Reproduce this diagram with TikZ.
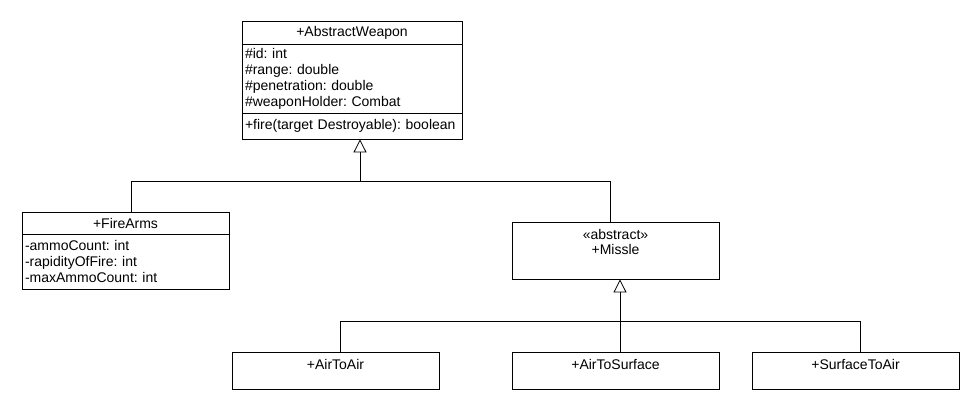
\documentclass[tikz,border=0pt]{standalone}
\usepackage{fontspec}
\setmainfont{Liberation Sans}
\usetikzlibrary{positioning,arrows.meta}
\frenchspacing

\tikzset{
	box/.style={draw=black,line width=0.8pt,inner sep=0pt},
	title/.style={box,font=\fontsize{14}{16}\selectfont},
	attrs/.style={box,align=left,inner xsep=3pt,font=\fontsize{14}{16}\selectfont},
	clsname/.style={inner sep=0pt,align=center,font=\fontsize{14}{15}\selectfont},
	edge/.style={draw=black,line width=0.8pt},
	gen/.style={-{Triangle[open,length=13pt,width=13pt]}}
}

\begin{document}
\begin{tikzpicture}[x=1pt,y=-1pt]
	\useasboundingbox (0,0) rectangle (980,410);
	
	% AbstractWeapon
	\node[title,minimum width=220pt,minimum height=23pt] (awname) at (352,32.5) {+AbstractWeapon};
	\node[attrs,text width=214pt,minimum height=69pt] (awattr) at (352,78.5) {\#id: int\\\#range: double\\\#penetration: double\\\#weaponHolder: Combat};
	\node[attrs,text width=214pt,minimum height=26pt] (awop) at (352,126) {+fire(target Destroyable): boolean};
	
	% FireArms
	\node[title,minimum width=207pt,minimum height=22pt] (faname) at (125.5,223) {+FireArms};
	\node[attrs,text width=201pt,minimum height=55pt] (faattr) at (125.5,261.5) {-ammoCount: int\\-rapidityOfFire: int\\-maxAmmoCount: int};
	
	% Missle
	\node[box,minimum width=207pt,minimum height=57pt] (missle) at (615.5,250.5) {};
	\node[clsname,below=8pt of missle.north] (misslename) {«abstract»\\+Missle};
	
	\node[box,minimum width=207pt,minimum height=37pt] (airtoair) at (335.5,370.5) {};
	\node[box,minimum width=207pt,minimum height=37pt] (airtosurface) at (615.5,370.5) {};
	\node[box,minimum width=207pt,minimum height=37pt] (surfacetoair) at (855.5,370.5) {};
	\node[clsname,below=8pt of airtoair.north] (airtoairname) {+AirToAir};
	\node[clsname,below=8pt of airtosurface.north] (airtosurfacename) {+AirToSurface};
	\node[clsname,below=8pt of surfacetoair.north] (surfacetoairname) {+SurfaceToAir};
	
	\coordinate (awjoin) at (360,181);
	\coordinate (msjoin) at (620,321);
	
	\draw[edge] ([xshift=5.5pt]faname.north) |- (awjoin);
	\draw[edge] ([xshift=-5.5pt]missle.north) |- (awjoin);
	\draw[edge,gen] (awjoin) -- (awjoin |- awop.south);
	
	\foreach \kid in {airtoair,airtosurface,surfacetoair}
	\draw[edge] ([xshift=4.5pt]\kid.north) |- (msjoin);
	\draw[edge,gen] (msjoin) -- (msjoin |- missle.south);
\end{tikzpicture}
\end{document}
